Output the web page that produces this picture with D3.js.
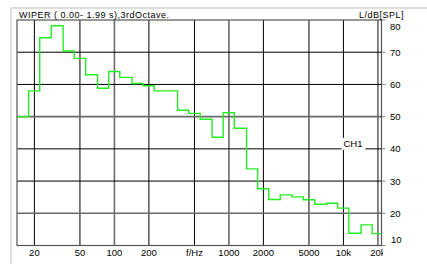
<!DOCTYPE html>
<html>
<head>
    <meta charset="utf-8">
    <title>WIPER 3rd octave</title>
    <script src="https://d3js.org/d3.v7.min.js"></script>
    <style>
        body { margin: 0; background: #fff; }
        text { font-family: "Liberation Sans", Arial, sans-serif; fill: #000; }
    </style>
</head>
<body>
    <script>

        // third-octave band centres (Hz) and level (dB SPL)
        var bands = [16, 20, 25, 31.5, 40, 50, 63, 80, 100, 125, 160, 200, 250, 315, 400, 500,
            630, 800, 1000, 1250, 1600, 2000, 2500, 3150, 4000, 5000, 6300, 8000, 10000, 12500, 16000, 20000];
        var levels = [50, 58, 74.5, 78.2, 70.4, 68.1, 63, 58.8, 64, 62.2, 60.3, 59.6, 58, 58, 52, 51,
            49.2, 43.6, 51.2, 46.4, 33.8, 27.6, 24.3, 25.7, 25.1, 24.2, 22.8, 23.1, 21.6, 13.8, 16.4, 13.7];

        var xTicks = [20, 50, 100, 200, 500, 1000, 2000, 5000, 10000, 20000];
        var xLabels = ["20", "50", "100", "200", "f/Hz", "1000", "2000", "5000", "10k", "20k"];
        var yTicks = [10, 20, 30, 40, 50, 60, 70, 80];
        var grayX = [100, 1000, 20000];
        var grayY = [20, 50];

        var width = 427, height = 264;
        var pLeft = 17, pRight = 381.5, pTop = 20, pBottom = 245.5;

        var x = d3.scaleLog().domain([14.1, 21500]).range([pLeft, pRight]);
        var y = d3.scaleLinear().domain([10, 80]).range([pBottom, pTop]);

        var svg = d3.select("body").append("svg")
            .attr("width", width)
            .attr("height", height);

        var defs = svg.append("defs");
        defs.append("clipPath").attr("id", "plot")
            .append("rect")
            .attr("x", pLeft).attr("y", pTop - 2)
            .attr("width", pRight - pLeft).attr("height", pBottom - pTop + 4);

        defs.append("clipPath").attr("id", "xlab")
            .append("rect")
            .attr("x", 0).attr("y", 240)
            .attr("width", 383).attr("height", 24);

        // outer light frame
        svg.append("path")
            .attr("d", "M11," + height + "V8H" + width)
            .attr("fill", "none")
            .attr("stroke", "#d4d4d4")
            .attr("stroke-width", 1.5);

        var grid = svg.append("g");

        grid.selectAll(".gx")
            .data(xTicks)
            .enter().append("line")
            .attr("x1", function (d) { return x(d); })
            .attr("x2", function (d) { return x(d); })
            .attr("y1", pTop).attr("y2", pBottom)
            .attr("stroke", function (d) { return grayX.indexOf(d) >= 0 ? "#6a6a6a" : "#000"; })
            .attr("stroke-width", function (d) { return grayX.indexOf(d) >= 0 ? 1.6 : 1; });

        grid.selectAll(".gy")
            .data(yTicks.slice(1, -1))
            .enter().append("line")
            .attr("x1", pLeft).attr("x2", pRight)
            .attr("y1", function (d) { return y(d); })
            .attr("y2", function (d) { return y(d); })
            .attr("stroke", function (d) { return grayY.indexOf(d) >= 0 ? "#6a6a6a" : "#000"; })
            .attr("stroke-width", function (d) { return grayY.indexOf(d) >= 0 ? 1.6 : 1; });

        // right-hand ticks
        grid.selectAll(".ty")
            .data(yTicks)
            .enter().append("line")
            .attr("x1", pRight).attr("x2", pRight + 4)
            .attr("y1", function (d) { return y(d); })
            .attr("y2", function (d) { return y(d); })
            .attr("stroke", "#888");

        // plot frame
        svg.append("rect")
            .attr("x", pLeft).attr("y", pTop)
            .attr("width", pRight - pLeft).attr("height", pBottom - pTop)
            .attr("fill", "none")
            .attr("stroke", "#555")
            .attr("stroke-width", 1.2);

        // CH1 marker
        var chX = x(10000);
        svg.append("rect")
            .attr("x", chX - 2).attr("y", y(40) - 11)
            .attr("width", 24).attr("height", 12)
            .attr("fill", "#fff");
        svg.append("text")
            .attr("x", chX).attr("y", y(40) - 2)
            .attr("font-size", "9.5px")
            .text("CH1");

        // step curve
        var pts = bands.map(function (f, i) { return [f / Math.pow(2, 1 / 6), levels[i]]; });
        pts.push([bands[bands.length - 1] * Math.pow(2, 1 / 6), levels[levels.length - 1]]);

        var line = d3.line()
            .x(function (d) { return x(d[0]); })
            .y(function (d) { return y(d[1]); })
            .curve(d3.curveStepAfter);

        svg.append("path")
            .datum(pts)
            .attr("clip-path", "url(#plot)")
            .attr("fill", "none")
            .attr("stroke", "#22ee22")
            .attr("stroke-width", 1.4)
            .attr("d", line);

        // x labels
        svg.append("g")
            .attr("clip-path", "url(#xlab)")
            .selectAll("text")
            .data(xTicks)
            .enter().append("text")
            .attr("x", function (d) { return x(d); })
            .attr("y", 256)
            .attr("text-anchor", "middle")
            .attr("font-size", "9.5px")
            .text(function (d, i) { return xLabels[i]; });

        // y labels
        svg.append("g")
            .selectAll("text")
            .data(yTicks)
            .enter().append("text")
            .attr("x", function (d) { return d === 10 ? 391 : 390; })
            .attr("y", function (d) {
                if (d === 80) return y(d) + 10;
                if (d === 10) return y(d) - 3;
                return y(d) + 3.5;
            })
            .attr("font-size", "9.5px")
            .text(function (d) { return d; });

        svg.append("text")
            .attr("x", 19).attr("y", 18)
            .attr("font-size", "9px")
            .attr("letter-spacing", "0.5px")
            .text("WIPER ( 0.00- 1.99 s),3rdOctave.");

        svg.append("text")
            .attr("x", 404).attr("y", 18)
            .attr("text-anchor", "end")
            .attr("font-size", "9px")
            .attr("letter-spacing", "0.5px")
            .text("L/dB[SPL]");

    </script>
</body>
</html>
